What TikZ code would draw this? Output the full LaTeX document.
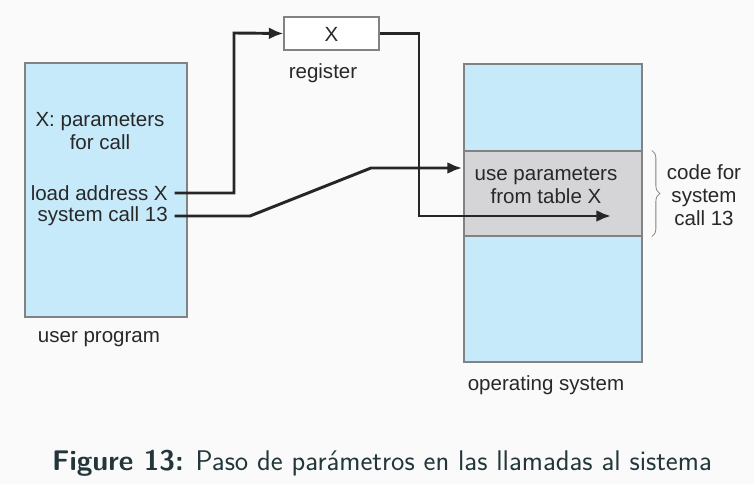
\documentclass[tikz,border=0pt]{standalone}
\usepackage{fontspec}
\setmainfont{Liberation Sans}
\usetikzlibrary{arrows.meta,decorations.pathreplacing}
\definecolor{pagebg}{RGB}{250,250,250}
\definecolor{memblue}{RGB}{199,234,250}
\definecolor{codegrey}{RGB}{213,213,215}
\definecolor{edgegrey}{RGB}{128,130,132}
\definecolor{inkgrey}{RGB}{40,40,40}
\definecolor{darkteal}{RGB}{35,55,59}

\tikzset{
  membox/.style={draw=edgegrey, fill=memblue, line width=0.8pt, inner sep=0pt},
  label/.style={text=inkgrey, font=\fontsize{15.4}{17.3}\selectfont, align=center, inner sep=0pt},
  arr/.style={-{Latex[length=11pt,width=9pt]}, line width=2.2pt, black!85}
}

\begin{document}
\begin{tikzpicture}[x=0.75pt,y=-0.75pt]
% Page size and background
\useasboundingbox (0,0) rectangle (754,484);
\fill[pagebg] (0,0) rectangle (754,484);

% Memory blocks
\node[membox, minimum width=121.5pt, minimum height=190.5pt] (user) at (106,190) {};
\node[membox, minimum width=133.5pt, minimum height=223.5pt] (os) at (553,213) {};
\node[membox, fill=codegrey, minimum width=133.5pt, minimum height=63.75pt] (band) at (553,193.5) {};
\node[draw=edgegrey, fill=white, line width=0.8pt, minimum width=71.25pt, minimum height=24.75pt] (reg) at (331.5,33.5) {};

% Texts inside the blocks
\node[label] (regx) at (331.5,34) {X};
\node[label] (params) at (100,131) {X: parameters\\for call};
\node[label, anchor=east] (load) at (168,193) {load address X};
\node[label, anchor=east] (syscall) at (168,216) {system call 13};
\node[label] (usepar) at (546,185) {use parameters\\from table X};

% Block names
\node[label] (regname) at (323,73) {register};
\node[label] (username) at (99,339) {user program};
\node[label] (osname) at (546,385) {operating system};
\node[label] (codefor) at (704,195) {code for\\system\\call 13};

% Turning points of the arrows
\coordinate (upA) at (234,33);
\coordinate (downB) at (419,216);
\coordinate (tipB) at (611,216);
\coordinate (flatC) at (250,216);
\coordinate (riseC) at (371,168);
\coordinate (tipC) at (462,168);

% Arrows
\draw[arr] ([xshift=5pt]load.east) -| (upA) -- (reg.west);
\draw[arr] (reg.east) -| (downB) -- (tipB);
\draw[arr] ([xshift=5pt]syscall.east) -- (flatC) -- (riseC) -- (tipC);

% Brace for the system call code
\draw[edgegrey, line width=0.6pt, decorate, decoration={brace, amplitude=6pt}]
  ([xshift=7pt]band.north east) -- ([xshift=7pt]band.south east);

% Caption
\node[text=darkteal, font=\sffamily\fontsize{21.3}{24}\selectfont, inner sep=0pt] (caption) at (382,463)
  {\textbf{Figure 13:} Paso de parámetros en las llamadas al sistema};
\end{tikzpicture}
\end{document}
